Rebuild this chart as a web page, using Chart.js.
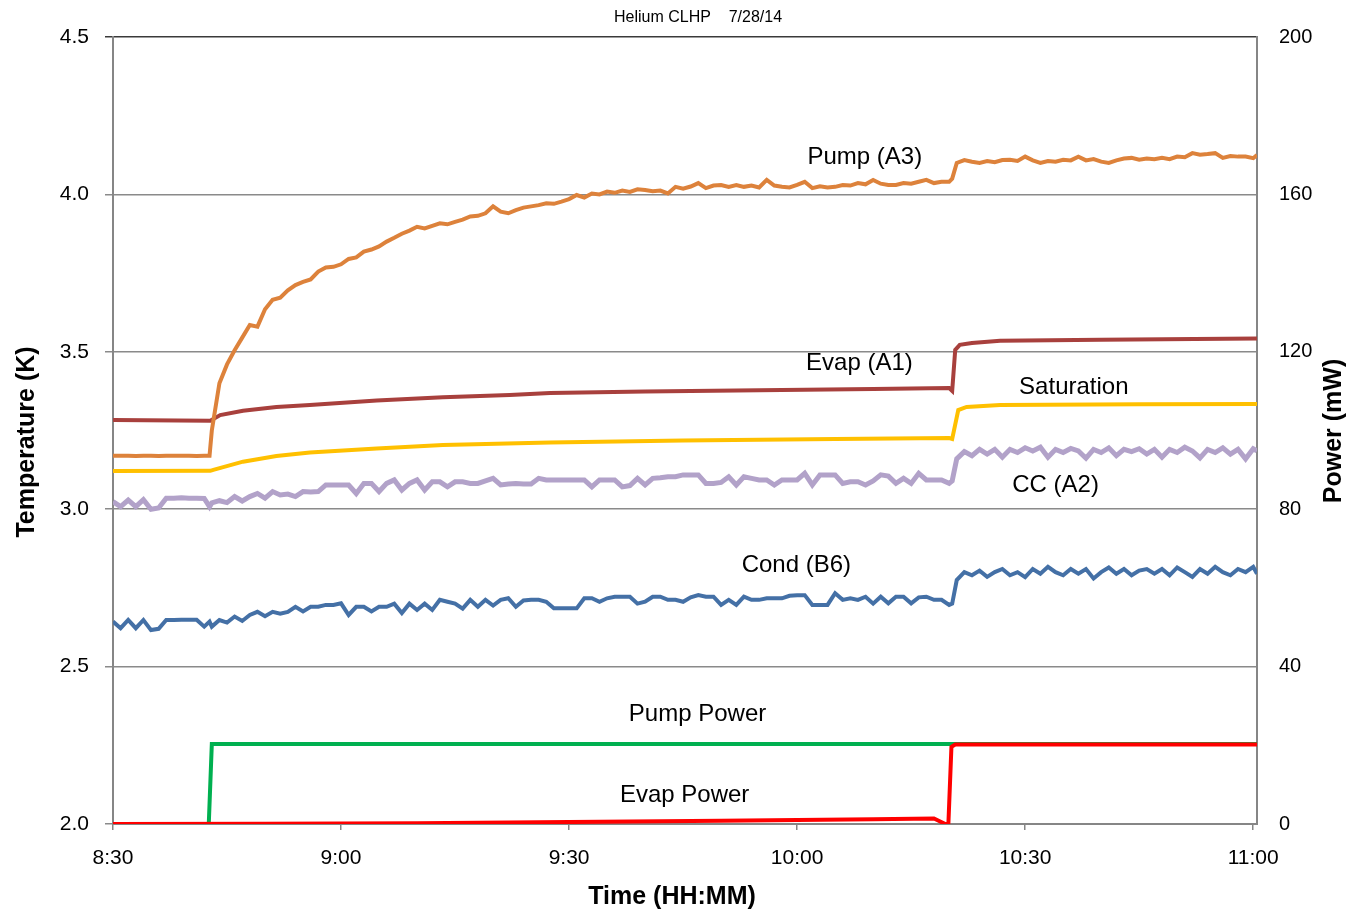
<!DOCTYPE html>
<html>
<head>
<meta charset="utf-8">
<script src="https://cdn.jsdelivr.net/npm/chart.js@4/dist/chart.umd.min.js"></script>
<style>
  body { margin: 0; background: #fff; }
  canvas { display: block; }
</style>
</head>
<body>
<canvas id="chart" width="1350" height="911"></canvas>
<script>
// minutes after 8:30, shared by the noisy sensor traces
const minutes = [
  0, 1, 2, 3, 4, 5, 6, 7, 8, 9,
  10, 11, 12, 12.7, 13, 14, 15, 16, 17, 18,
  19, 20, 21, 22, 23, 24, 25, 26, 27, 28,
  29, 30, 31, 32, 33, 34, 35, 36, 37, 38,
  39, 40, 41, 42, 43, 44, 45, 46, 47, 48,
  49, 50, 51, 52, 53, 54, 55, 56, 57, 58,
  59, 60, 61, 62, 63, 64, 65, 66, 67, 68,
  69, 70, 71, 72, 73, 74, 75, 76, 77, 78,
  79, 80, 81, 82, 83, 84, 85, 86, 87, 88,
  89, 90, 91, 92, 93, 94, 95, 96, 97, 98,
  99, 100, 101, 102, 103, 104, 105, 106, 107, 108,
  109, 110, 110.4, 111, 112, 113, 114, 115, 116, 117,
  118, 119, 120, 121, 122, 123, 124, 125, 126, 127,
  128, 129, 130, 131, 132, 133, 134, 135, 136, 137,
  138, 139, 140, 141, 142, 143, 144, 145, 146, 147,
  148, 149, 150, 150.5
];

const pumpA3 = [
  3.17, 3.17, 3.17, 3.169, 3.17, 3.17, 3.169, 3.17, 3.17, 3.17,
  3.17, 3.169, 3.17, 3.17, 3.25, 3.40, 3.46, 3.505, 3.545, 3.585,
  3.58, 3.635, 3.665, 3.672, 3.695, 3.712, 3.722, 3.73, 3.755, 3.768,
  3.77, 3.778, 3.795, 3.80, 3.818, 3.825, 3.835, 3.85, 3.862, 3.875,
  3.885, 3.897, 3.892, 3.90, 3.908, 3.905, 3.913, 3.92, 3.93, 3.932,
  3.94, 3.962, 3.945, 3.94, 3.95, 3.958, 3.962, 3.966, 3.972, 3.97,
  3.977, 3.985, 3.998, 3.99, 4.003, 4.0, 4.009, 4.005, 4.012, 4.008,
  4.016, 4.014, 4.01, 4.012, 4.003, 4.024, 4.018, 4.025, 4.036, 4.02,
  4.028, 4.03, 4.024, 4.03, 4.024, 4.028, 4.022, 4.046, 4.028, 4.024,
  4.022, 4.03, 4.04, 4.02, 4.026, 4.022, 4.024, 4.03, 4.028, 4.036,
  4.032, 4.046, 4.034, 4.03, 4.03, 4.036, 4.034, 4.04, 4.046, 4.036,
  4.04, 4.04, 4.05, 4.10, 4.109, 4.104, 4.10, 4.106, 4.102, 4.109,
  4.11, 4.106, 4.12, 4.108, 4.10, 4.106, 4.104, 4.11, 4.108, 4.12,
  4.108, 4.112, 4.104, 4.10, 4.108, 4.114, 4.116, 4.11, 4.114, 4.112,
  4.116, 4.112, 4.12, 4.118, 4.131, 4.126, 4.128, 4.131, 4.116, 4.122,
  4.12, 4.12, 4.115, 4.125
];

const ccA2 = [
  3.024, 3.008, 3.029, 3.008, 3.03, 3.0, 3.004, 3.035, 3.035, 3.036,
  3.035, 3.035, 3.034, 3.008, 3.02, 3.027, 3.021, 3.04, 3.026, 3.04,
  3.05, 3.035, 3.056, 3.045, 3.048, 3.04, 3.056, 3.055, 3.056, 3.077,
  3.077, 3.077, 3.077, 3.05, 3.082, 3.082, 3.056, 3.082, 3.093, 3.061,
  3.082, 3.093, 3.061, 3.087, 3.087, 3.071, 3.087, 3.087, 3.082, 3.082,
  3.09, 3.098, 3.077, 3.08, 3.082, 3.08, 3.08, 3.098, 3.093, 3.093,
  3.093, 3.093, 3.093, 3.093, 3.071, 3.093, 3.093, 3.093, 3.071, 3.075,
  3.098, 3.077, 3.098, 3.10, 3.103, 3.103, 3.109, 3.109, 3.109, 3.082,
  3.082, 3.085, 3.103, 3.077, 3.103, 3.098, 3.093, 3.093, 3.077, 3.093,
  3.093, 3.093, 3.114, 3.077, 3.109, 3.109, 3.109, 3.082, 3.087, 3.087,
  3.077, 3.09, 3.109, 3.105, 3.082, 3.098, 3.082, 3.114, 3.093, 3.093,
  3.093, 3.082, 3.09, 3.16, 3.183, 3.17, 3.19, 3.175, 3.19, 3.165,
  3.19, 3.18, 3.195, 3.185, 3.197, 3.165, 3.19, 3.18, 3.193, 3.185,
  3.162, 3.19, 3.18, 3.195, 3.17, 3.19, 3.183, 3.192, 3.175, 3.19,
  3.165, 3.19, 3.18, 3.197, 3.185, 3.163, 3.19, 3.18, 3.195, 3.175,
  3.19, 3.16, 3.192, 3.185
];

const condB6 = [
  2.643, 2.622, 2.648, 2.622, 2.648, 2.616, 2.62, 2.648, 2.648, 2.649,
  2.649, 2.649, 2.627, 2.643, 2.627, 2.648, 2.64, 2.659, 2.645, 2.664,
  2.674, 2.66, 2.674, 2.668, 2.674, 2.69, 2.675, 2.69, 2.69, 2.696,
  2.696, 2.701, 2.664, 2.69, 2.69, 2.675, 2.69, 2.69, 2.70, 2.67,
  2.70, 2.68, 2.70, 2.68, 2.712, 2.706, 2.70, 2.684, 2.712, 2.69,
  2.712, 2.694, 2.712, 2.717, 2.69, 2.71, 2.712, 2.712, 2.706, 2.685,
  2.685, 2.685, 2.685, 2.717, 2.717, 2.706, 2.717, 2.722, 2.722, 2.722,
  2.70, 2.706, 2.722, 2.722, 2.712, 2.712, 2.706, 2.72, 2.727, 2.722,
  2.722, 2.696, 2.712, 2.696, 2.722, 2.712, 2.712, 2.717, 2.717, 2.717,
  2.725, 2.727, 2.727, 2.696, 2.696, 2.696, 2.733, 2.712, 2.717, 2.712,
  2.722, 2.70, 2.722, 2.701, 2.722, 2.722, 2.701, 2.72, 2.722, 2.712,
  2.712, 2.696, 2.70, 2.775, 2.80, 2.79, 2.805, 2.785, 2.80, 2.81,
  2.79, 2.80, 2.784, 2.81, 2.795, 2.817, 2.80, 2.79, 2.81, 2.795,
  2.81, 2.78, 2.80, 2.815, 2.795, 2.81, 2.79, 2.805, 2.81, 2.795,
  2.81, 2.79, 2.815, 2.80, 2.785, 2.81, 2.795, 2.817, 2.80, 2.79,
  2.81, 2.80, 2.817, 2.795
];

// smoother traces, read at their own sample times
const evapA1Times = [0, 12.8, 14.1, 17.1, 21.5, 25.9, 34.7, 43.4, 52.2, 57.5, 70, 85, 100, 110, 110.4, 110.8, 111.4, 113, 116.7, 130, 150.5];
const evapA1 = [3.283, 3.281, 3.299, 3.313, 3.325, 3.331, 3.345, 3.356, 3.363, 3.369, 3.374, 3.378, 3.382, 3.385, 3.376, 3.506, 3.522, 3.528, 3.535, 3.538, 3.542];

const satTimes = [0, 12.8, 13.2, 17.1, 21.5, 25.9, 34.7, 43.4, 57.5, 75, 95, 110, 110.4, 111.2, 112.3, 116.7, 135, 150.5];
const saturation = [3.121, 3.122, 3.125, 3.151, 3.169, 3.18, 3.193, 3.204, 3.212, 3.218, 3.223, 3.226, 3.223, 3.315, 3.325, 3.331, 3.333, 3.334];

// power in mW (right axis)
const pumpPowerTimes = [0, 12.6, 13.0, 150.5];
const pumpPower = [0, 0, 20.3, 20.3];
const evapPowerTimes = [0, 20, 40, 60, 80, 100, 108, 109.5, 109.9, 110.3, 110.8, 150.5];
const evapPower = [0, 0.05, 0.2, 0.5, 0.8, 1.2, 1.4, 0, 0, 19.6, 20.2, 20.2];

const xTickMinutes = [0, 30, 60, 90, 120, 150];

// in-plot series labels (minutes, K)
const labelText = ["Pump (A3)", "Evap (A1)", "Saturation", "CC (A2)", "Cond (B6)", "Pump Power", "Evap Power"];
const labelTime = [98.9, 98.2, 126.4, 124.0, 89.9, 76.9, 75.2];
const labelTemp = [4.119, 3.464, 3.388, 3.077, 2.82, 2.349, 2.092];

const FONT = "'Liberation Sans', Arial, sans-serif";

const toPoints = (xs, ys) => xs.map((x, i) => ({ x: x, y: ys[i] }));

const fmtTime = (v) => {
  const m = 8 * 60 + 30 + v;
  return Math.floor(m / 60) + ":" + String(m % 60).padStart(2, "0");
};

const line = (data, color, width, axis) => ({
  data: data,
  borderColor: color,
  backgroundColor: color,
  borderWidth: width,
  pointRadius: 0,
  tension: 0,
  fill: false,
  yAxisID: axis,
});

const textPlugin = {
  id: "texts",
  afterDatasetsDraw(chart) {
    const { ctx, scales } = chart;
    ctx.save();
    ctx.fillStyle = "#000";
    ctx.textAlign = "center";
    ctx.textBaseline = "middle";

    ctx.font = "24px " + FONT;
    labelText.forEach((t, i) => {
      ctx.fillText(t, scales.x.getPixelForValue(labelTime[i]), scales.y.getPixelForValue(labelTemp[i]));
    });

    ctx.font = "16px " + FONT;
    ctx.fillText("Helium CLHP    7/28/14", 698, 18);

    ctx.font = "bold 25px " + FONT;
    ctx.fillText("Time (HH:MM)", 672, 897);

    ctx.save();
    ctx.translate(27, 442);
    ctx.rotate(-Math.PI / 2);
    ctx.fillText("Temperature (K)", 0, 0);
    ctx.restore();

    ctx.save();
    ctx.translate(1334, 431);
    ctx.rotate(-Math.PI / 2);
    ctx.fillText("Power (mW)", 0, 0);
    ctx.restore();

    ctx.restore();
  },
};

new Chart(document.getElementById("chart"), {
  type: "line",
  data: {
    datasets: [
      line(toPoints(evapPowerTimes, evapPower), "#ff0000", 4, "y1"),
      line(toPoints(pumpPowerTimes, pumpPower), "#00b050", 4, "y1"),
      line(toPoints(minutes, pumpA3), "#dd823b", 4, "y"),
      line(toPoints(evapA1Times, evapA1), "#a8403d", 4, "y"),
      line(toPoints(satTimes, saturation), "#ffc000", 4, "y"),
      line(toPoints(minutes, ccA2), "#b2a2c9", 5, "y"),
      line(toPoints(minutes, condB6), "#4470a6", 4, "y"),
    ],
  },
  options: {
    responsive: false,
    animation: false,
    layout: { padding: { top: 37, left: 0, right: 0, bottom: 0 } },
    plugins: {
      legend: { display: false },
      tooltip: { enabled: false },
      title: { display: false },
    },
    scales: {
      x: {
        type: "linear",
        min: 0,
        max: 150.5,
        afterBuildTicks: (axis) => {
          axis.ticks = xTickMinutes.map((v) => ({ value: v }));
        },
        afterFit: (axis) => { axis.height = 87; },
        ticks: {
          callback: (v) => fmtTime(v),
          color: "#000",
          font: { family: FONT, size: 21 },
          padding: 16,
          maxRotation: 0,
        },
        grid: { drawOnChartArea: false, drawTicks: true, tickLength: 6, color: "#868686", lineWidth: 1.5 },
        border: { display: true, color: "#868686", width: 2 },
      },
      y: {
        position: "left",
        min: 2,
        max: 4.5,
        afterFit: (axis) => { axis.width = 113; },
        ticks: {
          stepSize: 0.5,
          callback: (v) => v.toFixed(1),
          color: "#000",
          font: { family: FONT, size: 21 },
          padding: 16,
        },
        grid: {
          color: (c) => (c.tick && c.tick.value === 4.5 ? "#3a3a3a" : "#8a8a8a"),
          lineWidth: 1.5,
          drawTicks: true,
          tickLength: 8,
        },
        border: { display: true, color: "#868686", width: 2 },
      },
      y1: {
        position: "right",
        min: 0,
        max: 200,
        afterFit: (axis) => { axis.width = 93; },
        ticks: {
          stepSize: 40,
          color: "#000",
          font: { family: FONT, size: 20 },
          padding: 22,
        },
        grid: { drawOnChartArea: false, drawTicks: false },
        border: { display: true, color: "#868686", width: 2 },
      },
    },
  },
  plugins: [textPlugin],
});
</script>
</body>
</html>
